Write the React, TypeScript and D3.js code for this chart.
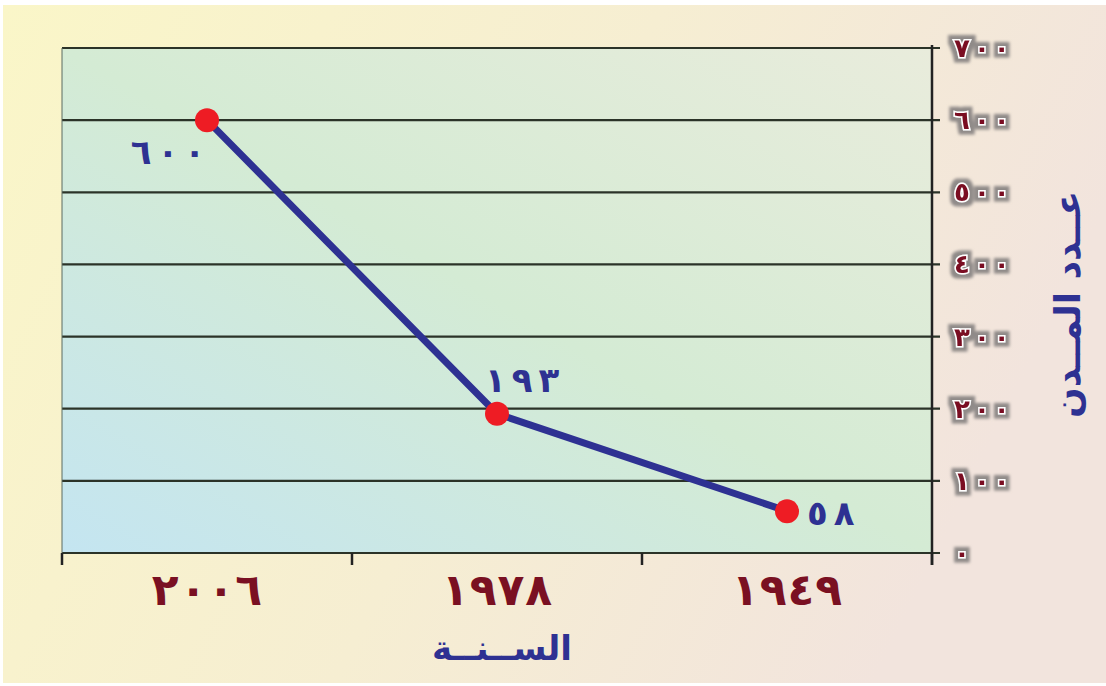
import React from 'react';
import * as d3 from 'd3';

const years = ['٢٠٠٦', '١٩٧٨', '١٩٤٩'];
const cityCounts = [600, 193, 58];
const valueLabels = ['٦٠٠', '١٩٣', '٥٨'];
const yTicks = [0, 100, 200, 300, 400, 500, 600, 700];
const yTickLabels = ['٠', '١٠٠', '٢٠٠', '٣٠٠', '٤٠٠', '٥٠٠', '٦٠٠', '٧٠٠'];
const xTitle = 'الســنــة';
const yTitle = 'عــدد المــدن';

const W = 1106;
const H = 686;
const M = { left: 62, right: 174, top: 48, bottom: 133 };

function Spaced({ s, gap }: { s: string; gap: number }) {
  return (
    <>
      {Array.from(s).map((c, i) => (
        <tspan key={i} dx={i === 0 ? 0 : gap}>
          {c}
        </tspan>
      ))}
    </>
  );
}

export default function App() {
  const x = d3.scaleBand<string>().domain(years).range([M.left, W - M.right]);
  const y = d3.scaleLinear().domain([0, 700]).range([H - M.bottom, M.top]);
  const x0 = M.left;
  const x1 = W - M.right;
  const yb = y(0);
  const yt = y(700);
  const pts = years.map((yr, i) => [x(yr)! + x.bandwidth() / 2, y(cityCounts[i])] as [number, number]);
  const line = d3.line();
  const font = '"DejaVu Sans", sans-serif';
  const blue = '#2e3192';
  const red = '#7a1022';
  const labelOffsets = [
    { dx: -2, dy: 44, anchor: 'end' },
    { dx: -12, dy: -22, anchor: 'start' },
    { dx: 20, dy: 14, anchor: 'start' },
  ];
  const edges = [x0, ...years.map((yr) => x(yr)! + x.bandwidth())];

  return (
    <div style={{ position: 'absolute', left: 0, top: 0, width: W, height: H }}>
      <svg width={W} height={H} style={{ display: 'block' }}>
        <defs>
          <linearGradient id="bg" x1="0" y1="0" x2="1" y2="0.3">
            <stop offset="0" stopColor="#faf6c8" />
            <stop offset="0.55" stopColor="#f6eed2" />
            <stop offset="1" stopColor="#f2e4dd" />
          </linearGradient>
          <linearGradient id="plot" x1="0" y1="1" x2="1" y2="0">
            <stop offset="0" stopColor="#c4e5f1" />
            <stop offset="0.5" stopColor="#d4ebd4" />
            <stop offset="1" stopColor="#e9ecdc" />
          </linearGradient>
          <filter id="glow" x="-20%" y="-40%" width="140%" height="180%">
            <feMorphology in="SourceAlpha" operator="dilate" radius="3.5" result="d" />
            <feGaussianBlur in="d" stdDeviation="1.8" result="b" />
            <feFlood floodColor="#8f8a88" result="c" />
            <feComposite in="c" in2="b" operator="in" result="g" />
            <feMerge>
              <feMergeNode in="g" />
              <feMergeNode in="SourceGraphic" />
            </feMerge>
          </filter>
        </defs>
        <rect x={0} y={0} width={W} height={H} fill="#ffffff" />
        <rect x={3} y={5} width={W - 3} height={H - 8} fill="url(#bg)" />
        <rect x={x0} y={yt} width={x1 - x0} height={yb - yt} fill="url(#plot)" />
        {yTicks.map((t) => (
          <line key={t} x1={x0} x2={x1 + 8} y1={y(t)} y2={y(t)} stroke="#2b3328" strokeWidth={2.2} />
        ))}
        <line x1={x0} x2={x0} y1={yt} y2={yb} stroke="#5a6a60" strokeWidth={1} />
        <line x1={x1} x2={x1} y1={yt - 3} y2={yb + 12} stroke="#222" strokeWidth={2.5} />
        {edges.map((e, i) => (
          <line key={i} x1={e} x2={e} y1={yb} y2={yb + 12} stroke="#222" strokeWidth={2.5} />
        ))}
        {yTicks.map((t, i) => (
          <text
            key={t}
            x={x1 + 22}
            y={y(t) + 9}
            fontFamily={font}
            fontWeight="bold"
            fontSize={26}
            fill={red}
            stroke="#ffffff"
            strokeWidth={3}
            paintOrder="stroke"
            filter="url(#glow)"
            direction="ltr"
          >
            <Spaced s={yTickLabels[i]} gap={4} />
          </text>
        ))}
        <path d={line(pts) || ''} fill="none" stroke={blue} strokeWidth={7} strokeLinejoin="round" />
        {pts.map((p, i) => (
          <circle key={i} cx={p[0]} cy={p[1]} r={12} fill="#ee1c24" />
        ))}
        {pts.map((p, i) => (
          <text
            key={i}
            x={p[0] + labelOffsets[i].dx}
            y={p[1] + labelOffsets[i].dy}
            textAnchor={labelOffsets[i].anchor}
            fontFamily={font}
            fontWeight="bold"
            fontSize={34}
            fill={blue}
            direction="ltr"
          >
            <Spaced s={valueLabels[i]} gap={6} />
          </text>
        ))}
        {years.map((yr) => (
          <text
            key={yr}
            x={x(yr)! + x.bandwidth() / 2}
            y={yb + 52}
            textAnchor="middle"
            fontFamily={font}
            fontWeight="bold"
            fontSize={44}
            fill={red}
            direction="ltr"
          >
            <Spaced s={yr} gap={1} />
          </text>
        ))}
        <text
          x={(x0 + x1) / 2 + 5}
          y={H - 26}
          textAnchor="middle"
          fontFamily={font}
          fontWeight="bold"
          fontSize={34}
          fill={blue}
        >
          {xTitle}
        </text>
        <text
          transform={`translate(${W - 26}, ${(yt + yb) / 2 + 4}) rotate(-90)`}
          textAnchor="middle"
          fontFamily={font}
          fontWeight="bold"
          fontSize={36}
          fill={blue}
        >
          {yTitle}
        </text>
      </svg>
    </div>
  );
}
